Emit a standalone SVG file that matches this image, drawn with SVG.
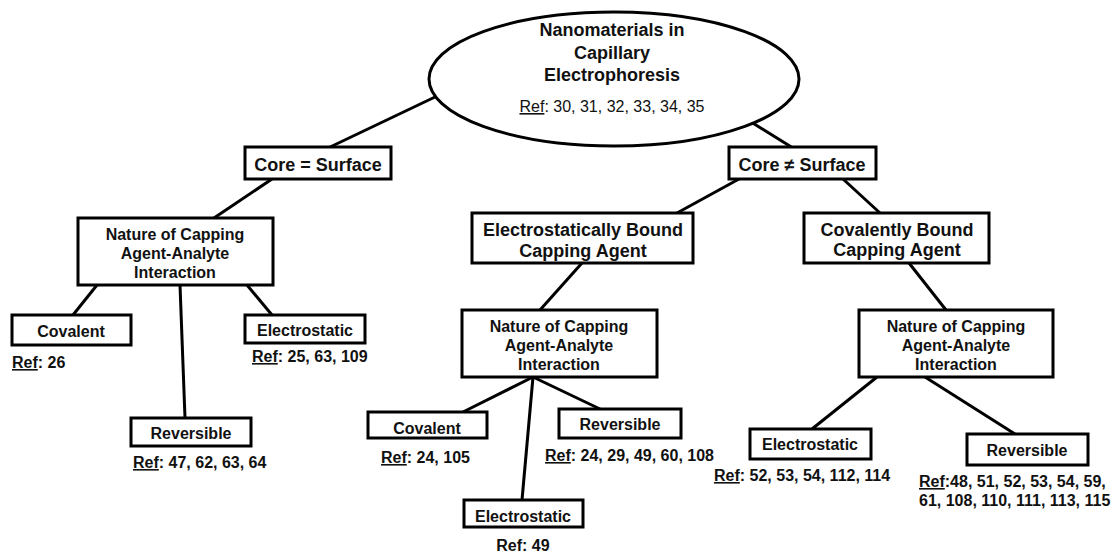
<svg xmlns="http://www.w3.org/2000/svg" width="1120" height="554" viewBox="0 0 1120 554">
<style>
.box{fill:#fff;stroke:#000;stroke-width:3}
.t{font-family:"Liberation Sans",Arial,sans-serif;font-weight:bold;font-size:16px;fill:#111}
.tl{font-family:"Liberation Sans",Arial,sans-serif;font-weight:bold;font-size:18px;fill:#111}
.tr{font-family:"Liberation Sans",Arial,sans-serif;font-size:16px;fill:#111}
.c{text-anchor:middle}
.u{text-decoration:underline}
.ln{stroke:#000;stroke-width:3;fill:none}
</style>
<rect width="1120" height="554" fill="#fff"/>
<g id="connectors">
<line class="ln" x1="435" y1="97" x2="328" y2="148"/>
<line class="ln" x1="751" y1="122" x2="793" y2="148"/>
<line class="ln" x1="272" y1="179" x2="214" y2="218"/>
<line class="ln" x1="97" y1="285" x2="73" y2="315"/>
<line class="ln" x1="180" y1="285" x2="185" y2="418"/>
<line class="ln" x1="247" y1="285" x2="272" y2="315"/>
<line class="ln" x1="739" y1="179" x2="677" y2="213"/>
<line class="ln" x1="843" y1="179" x2="880" y2="213"/>
<line class="ln" x1="582" y1="263" x2="540" y2="310"/>
<line class="ln" x1="909" y1="263" x2="946" y2="310"/>
<line class="ln" x1="533" y1="377" x2="463" y2="412"/>
<line class="ln" x1="533" y1="377" x2="522" y2="500"/>
<line class="ln" x1="533" y1="377" x2="600" y2="409"/>
<line class="ln" x1="877" y1="377" x2="812" y2="429"/>
<line class="ln" x1="925" y1="377" x2="1015" y2="434"/>
</g>
<g id="root">
<ellipse class="box" cx="614" cy="79" rx="185" ry="67"/>
<text class="tl c" x="612" y="36">Nanomaterials in</text>
<text class="tl c" x="612" y="58.5">Capillary</text>
<text class="tl c" x="612" y="81">Electrophoresis</text>
<text class="tr c" x="612" y="112"><tspan class="u">Ref</tspan>: 30, 31, 32, 33, 34, 35</text>
</g>
<g id="core-eq">
<rect class="box" x="245" y="147" width="146" height="32"/>
<text class="tl c" x="318" y="171">Core = Surface</text>
</g>
<g id="core-neq">
<rect class="box" x="729" y="147" width="147" height="32"/>
<text class="tl c" x="802" y="171">Core ≠ Surface</text>
</g>
<g id="nature1">
<rect class="box" x="78" y="218" width="195" height="67"/>
<text class="t c" x="175" y="240">Nature of Capping</text>
<text class="t c" x="175" y="259">Agent-Analyte</text>
<text class="t c" x="175" y="278">Interaction</text>
</g>
<g id="covalent1">
<rect class="box" x="12" y="315" width="119" height="30"/>
<text class="t c" x="71" y="337">Covalent</text>
<text class="t" x="12" y="368"><tspan class="u">Ref</tspan>: 26</text>
</g>
<g id="electrostatic1">
<rect class="box" x="245" y="315" width="120" height="28"/>
<text class="t c" x="305" y="336">Electrostatic</text>
<text class="t" x="252" y="362"><tspan class="u">Ref</tspan>: 25, 63, 109</text>
</g>
<g id="reversible1">
<rect class="box" x="131" y="418" width="120" height="28"/>
<text class="t c" x="191" y="439">Reversible</text>
<text class="t" x="133" y="468"><tspan class="u">Ref</tspan>: 47, 62, 63, 64</text>
</g>
<g id="electro-bound">
<rect class="box" x="472" y="213" width="221" height="50"/>
<text class="tl c" x="583" y="236">Electrostatically Bound</text>
<text class="tl c" x="583" y="257">Capping Agent</text>
</g>
<g id="cova-bound">
<rect class="box" x="804" y="213" width="185" height="50"/>
<text class="tl c" x="897" y="236">Covalently Bound</text>
<text class="tl c" x="897" y="256">Capping Agent</text>
</g>
<g id="nature2">
<rect class="box" x="462" y="310" width="195" height="67"/>
<text class="t c" x="559" y="332">Nature of Capping</text>
<text class="t c" x="559" y="351">Agent-Analyte</text>
<text class="t c" x="559" y="370">Interaction</text>
</g>
<g id="nature3">
<rect class="box" x="859" y="310" width="194" height="67"/>
<text class="t c" x="956" y="332">Nature of Capping</text>
<text class="t c" x="956" y="351">Agent-Analyte</text>
<text class="t c" x="956" y="370">Interaction</text>
</g>
<g id="covalent2">
<rect class="box" x="368" y="412" width="119" height="26"/>
<text class="t c" x="427" y="434">Covalent</text>
<text class="t" x="381" y="463"><tspan class="u">Ref</tspan>: 24, 105</text>
</g>
<g id="reversible2">
<rect class="box" x="559" y="409" width="122" height="29"/>
<text class="t c" x="620" y="430">Reversible</text>
<text class="t" x="545" y="461"><tspan class="u">Ref</tspan>: 24, 29, 49, 60, 108</text>
</g>
<g id="electrostatic2">
<rect class="box" x="464" y="500" width="119" height="27"/>
<text class="t c" x="523" y="522">Electrostatic</text>
<text class="t c" x="523" y="551">Ref: 49</text>
</g>
<g id="electrostatic3">
<rect class="box" x="750" y="429" width="121" height="30"/>
<text class="t c" x="810" y="450">Electrostatic</text>
<text class="t" x="714" y="481"><tspan class="u">Ref</tspan>: 52, 53, 54, 112, 114</text>
</g>
<g id="reversible3">
<rect class="box" x="967" y="434" width="121" height="31"/>
<text class="t c" x="1027" y="456">Reversible</text>
<text class="t" x="919" y="487"><tspan class="u">Ref</tspan>:48, 51, 52, 53, 54, 59,</text>
<text class="t" x="919" y="506">61, 108, 110, 111, 113, 115</text>
</g>
</svg>
